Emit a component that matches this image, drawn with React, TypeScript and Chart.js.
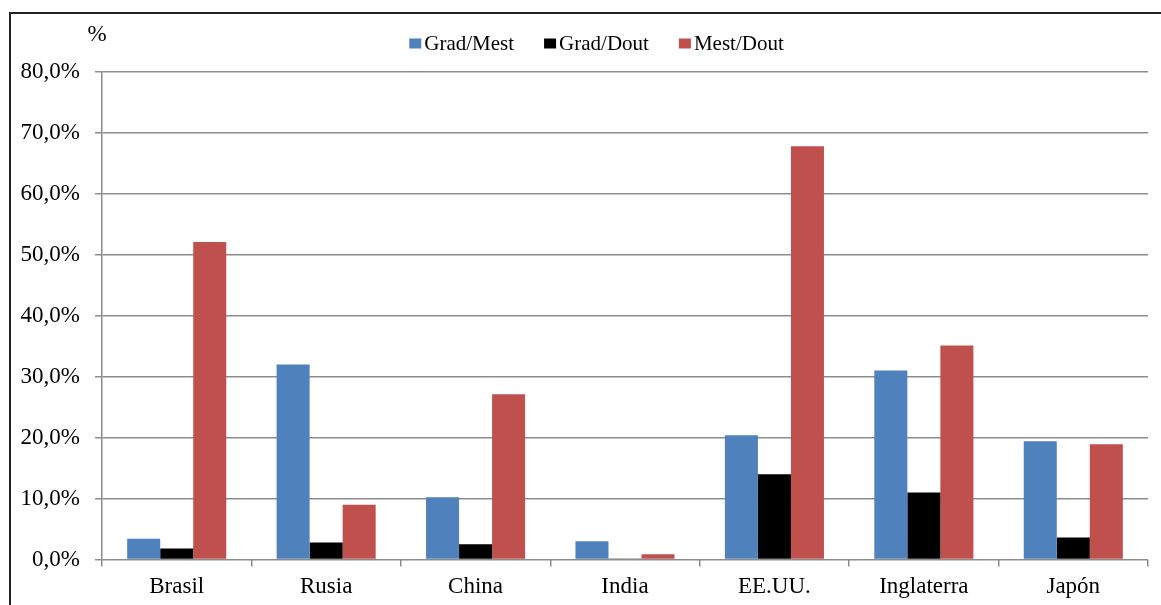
import React, { useEffect, useRef } from "react";
import { Chart, registerables } from "chart.js";

Chart.register(...registerables);

const categories = ["Brasil", "Rusia", "China", "India", "EE.UU.", "Inglaterra", "Japón"];
const seriesNames = ["Grad/Mest", "Grad/Dout", "Mest/Dout"];
const gradMest = [3.4, 32.0, 10.2, 3.0, 20.4, 31.0, 19.4];
const gradDout = [1.8, 2.8, 2.5, 0.1, 14.0, 11.0, 3.6];
const mestDout = [52.1, 9.0, 27.1, 0.85, 67.8, 35.1, 18.9];
const yTicks = [0, 10, 20, 30, 40, 50, 60, 70, 80];
const axisTitle = "%";

const colors = ["#4F81BD", "#000000", "#C0504D"];
const FONT = "'Liberation Serif', 'Times New Roman', serif";

const customLegend = {
  id: "customLegend",
  afterDraw(chart: any) {
    const ctx = chart.ctx;
    ctx.save();
    ctx.font = `21px ${FONT}`;
    ctx.textBaseline = "alphabetic";
    ctx.textAlign = "left";
    const boxW = 12;
    const gapText = 3;
    const gapItem = 30;
    const widths = chart.data.datasets.map((d: any) => ctx.measureText(d.label).width);
    const total = widths.reduce((a: number, w: number) => a + boxW + gapText + w, 0) + gapItem * (widths.length - 1);
    let x = 596.5 - total / 2;
    chart.data.datasets.forEach((d: any, i: number) => {
      ctx.fillStyle = d.backgroundColor;
      ctx.fillRect(x, 38.5, boxW, 10);
      ctx.fillStyle = "#000";
      ctx.fillText(d.label, x + boxW + gapText, 50);
      x += boxW + gapText + widths[i] + gapItem;
    });
    // axis title
    ctx.font = `23px ${FONT}`;
    ctx.textAlign = "center";
    ctx.fillText(axisTitle, 97, 41);
    ctx.restore();
  },
};

export default function App() {
  const ref = useRef<HTMLCanvasElement>(null);
  useEffect(() => {
    const chart = new Chart(ref.current as HTMLCanvasElement, {
      type: "bar",
      data: {
        labels: categories,
        datasets: [
          { label: seriesNames[0], data: gradMest, backgroundColor: colors[0] },
          { label: seriesNames[1], data: gradDout, backgroundColor: colors[1] },
          { label: seriesNames[2], data: mestDout, backgroundColor: colors[2] },
        ],
      },
      options: {
        responsive: false,
        animation: false,
        layout: { padding: { left: 0, right: 13, top: 72, bottom: 0 } },
        datasets: {
          bar: { categoryPercentage: 0.663, barPercentage: 1, borderWidth: 0 },
        },
        plugins: {
          legend: { display: false },
          tooltip: { enabled: false },
        },
        scales: {
          x: {
            offset: true,
            grid: {
              offset: true,
              drawOnChartArea: false,
              drawTicks: true,
              tickLength: 7,
              color: "#8c8c8c",
              lineWidth: 1.5,
            },
            border: { display: false },
            ticks: {
              color: "#000",
              font: { family: FONT, size: 23 },
              padding: 7,
              maxRotation: 0,
            },
            afterFit: (s: any) => {
              s.height = 45.5;
            },
          },
          y: {
            min: 0,
            max: 80,
            afterBuildTicks: (s: any) => {
              s.ticks = yTicks.map((v) => ({ value: v }));
            },
            grid: {
              color: "#8c8c8c",
              lineWidth: 1.5,
              drawTicks: true,
              tickLength: 7,
            },
            border: { display: true, color: "#8c8c8c", width: 1.5 },
            ticks: {
              color: "#000",
              font: { family: FONT, size: 23 },
              padding: 15,
              callback: (v: any) => Number(v).toFixed(1).replace(".", ",") + "%",
            },
            afterFit: (s: any) => {
              s.width = 102;
            },
          },
        },
      },
      plugins: [customLegend],
    });
    return () => chart.destroy();
  }, []);

  return (
    <div style={{ position: "fixed", left: 0, top: 0, width: 1161, height: 605, overflow: "hidden", background: "#fff" }}>
      <canvas ref={ref} width={1161} height={605} style={{ position: "absolute", left: 0, top: 0, display: "block" }} />
      <div
        style={{
          position: "absolute",
          left: 9,
          top: 12,
          width: 2000,
          height: 2000,
          borderLeft: "2px solid #222",
          borderTop: "2px solid #222",
          pointerEvents: "none",
        }}
      />
    </div>
  );
}
